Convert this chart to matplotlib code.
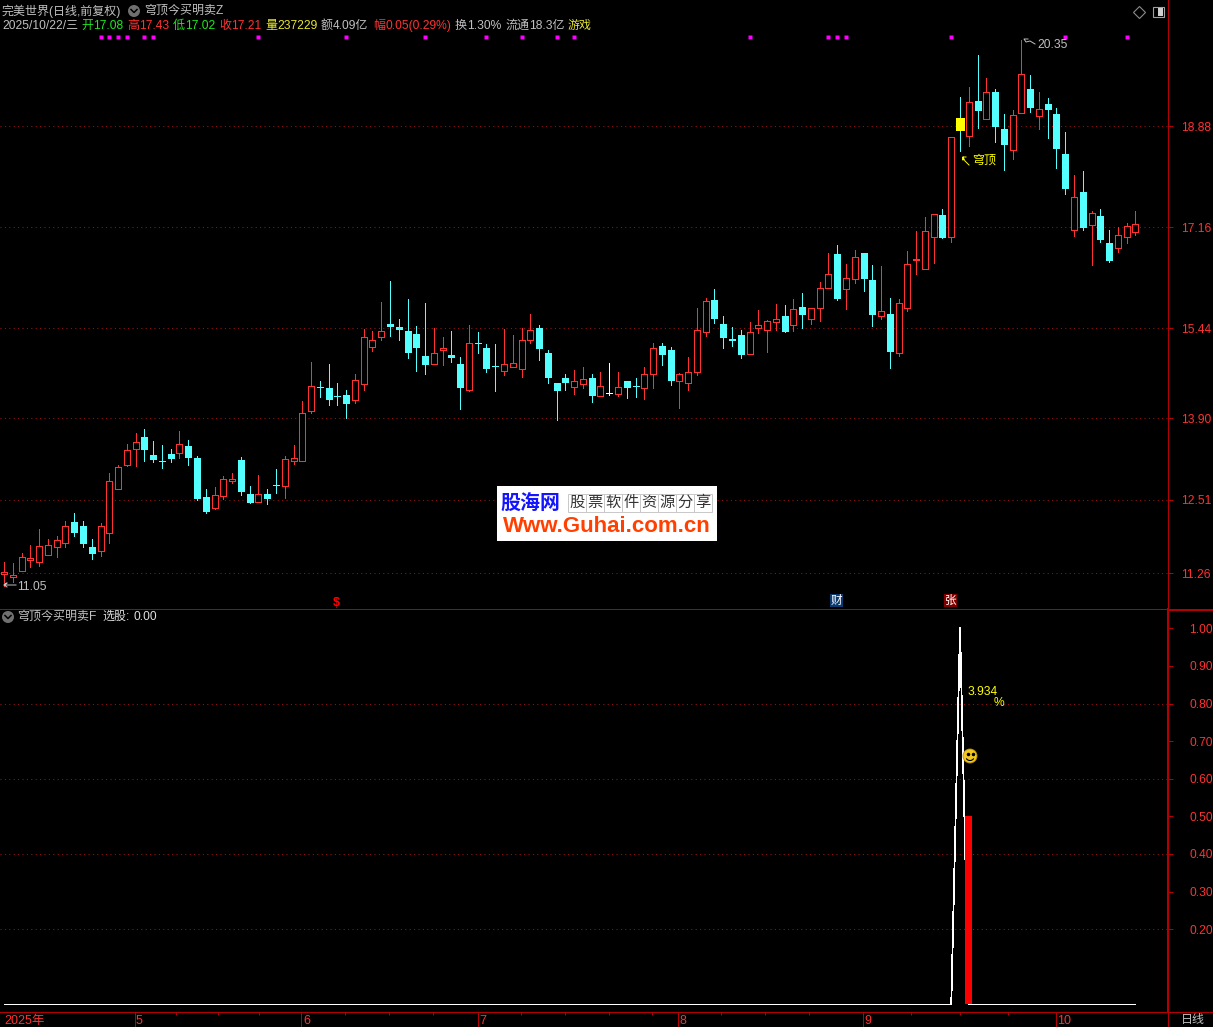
# daily candles with the two-panel terminal look
import matplotlib
matplotlib.use('Agg')
import matplotlib.pyplot as plt
from matplotlib.patches import Circle, Rectangle, Arc

plt.rcParams['font.family'] = ['Liberation Sans', 'Noto Sans CJK SC', 'DejaVu Sans']
plt.rcParams['font.size'] = 8.64

opens = [11.25, 11.20, 11.30, 11.48, 11.46, 11.58, 11.70, 11.78, 12.13, 12.07,
         11.71, 11.64, 11.95, 12.69, 13.11, 13.38, 13.58, 13.28, 13.18, 13.29,
         13.31, 13.43, 13.23, 12.56, 12.37, 12.58, 12.83, 13.19, 12.61, 12.48,
         12.61, 12.77, 12.74, 13.18, 13.18, 14.02, 14.44, 14.42, 14.29, 14.30,
         14.22, 14.49, 15.11, 15.29, 15.51, 15.46, 15.39, 15.34, 14.96, 14.83,
         15.07, 14.98, 14.83, 14.39, 15.19, 15.10, 14.80, 14.71, 14.77, 14.75,
         15.23, 15.44, 15.02, 14.50, 14.59, 14.44, 14.49, 14.59, 14.29, 14.34,
         14.31, 14.54, 14.46, 14.42, 14.65, 15.14, 15.07, 14.54, 14.51, 14.70,
         15.38, 15.92, 15.51, 15.25, 15.32, 14.99, 15.45, 15.41, 15.55, 15.65,
         15.50, 15.80, 15.60, 15.79, 16.13, 16.70, 16.10, 16.28, 16.72, 16.26,
         15.65, 15.68, 15.02, 15.79, 16.60, 16.45, 16.99, 17.37, 16.99, 19.02,
         18.72, 19.31, 19.01, 19.47, 18.83, 18.48, 19.11, 19.52, 19.06, 19.26,
         19.09, 18.41, 17.12, 17.76, 17.20, 17.35, 16.89, 16.81, 17.00, 17.08]
highs = [11.45, 11.43, 11.61, 11.74, 12.01, 11.85, 11.90, 12.15, 12.29, 12.15,
         11.85, 12.12, 12.97, 13.11, 13.46, 13.65, 13.72, 13.52, 13.45, 13.38,
         13.69, 13.53, 13.26, 12.70, 12.73, 12.92, 12.97, 13.24, 12.75, 12.94,
         12.70, 13.04, 13.26, 13.45, 14.20, 14.86, 14.54, 14.83, 14.50, 14.39,
         14.66, 15.42, 15.39, 15.89, 16.24, 15.60, 15.94, 15.48, 15.87, 15.44,
         15.29, 15.39, 14.95, 15.49, 15.37, 15.17, 15.17, 15.42, 15.32, 15.44,
         15.68, 15.49, 15.07, 14.50, 14.66, 14.73, 14.78, 14.66, 14.69, 14.85,
         14.69, 14.54, 14.59, 14.78, 15.19, 15.19, 15.12, 14.67, 14.95, 15.78,
         15.95, 16.11, 15.65, 15.46, 15.41, 15.54, 15.75, 15.58, 15.85, 15.83,
         15.94, 16.04, 15.79, 16.23, 16.72, 16.86, 16.53, 16.77, 16.72, 16.52,
         16.50, 15.95, 15.94, 16.76, 17.10, 17.33, 17.38, 17.47, 18.69, 19.38,
         19.55, 20.10, 19.70, 19.52, 19.09, 19.16, 20.35, 19.76, 19.47, 19.36,
         19.19, 18.78, 18.05, 18.12, 17.43, 17.47, 17.11, 17.16, 17.23, 17.43]
lows = [11.05, 11.11, 11.30, 11.37, 11.38, 11.58, 11.54, 11.71, 11.90, 11.71,
        11.50, 11.55, 11.78, 12.69, 13.09, 13.09, 13.17, 13.16, 13.05, 13.16,
        13.23, 13.11, 12.51, 12.29, 12.36, 12.53, 12.80, 12.60, 12.46, 12.48,
        12.44, 12.63, 12.54, 13.12, 13.18, 14.00, 14.27, 14.13, 14.13, 13.91,
        14.16, 14.39, 15.05, 15.24, 15.31, 15.24, 14.93, 14.71, 14.66, 14.83,
        14.81, 14.86, 14.06, 14.37, 15.02, 14.69, 14.37, 14.64, 14.77, 14.61,
        15.19, 14.90, 14.50, 13.87, 14.39, 14.32, 14.42, 14.18, 14.29, 14.30,
        14.29, 14.25, 14.27, 14.23, 14.42, 14.81, 14.47, 14.08, 14.39, 14.64,
        15.31, 15.53, 15.10, 15.14, 14.93, 14.99, 15.36, 15.03, 15.41, 15.37,
        15.39, 15.44, 15.51, 15.56, 16.13, 15.92, 15.77, 16.21, 16.07, 15.48,
        15.60, 14.76, 14.97, 15.73, 16.36, 16.45, 16.55, 16.98, 16.91, 18.46,
        18.55, 18.85, 19.01, 18.61, 18.14, 18.32, 19.11, 19.12, 18.83, 18.68,
        18.17, 17.73, 17.01, 17.11, 16.52, 16.91, 16.57, 16.74, 16.89, 17.02]
closes = [11.29, 11.23, 11.53, 11.52, 11.72, 11.74, 11.82, 12.06, 11.96, 11.78,
          11.61, 12.06, 12.83, 13.08, 13.37, 13.49, 13.38, 13.21, 13.17, 13.23,
          13.46, 13.24, 12.54, 12.32, 12.59, 12.86, 12.86, 12.66, 12.48, 12.61,
          12.54, 12.76, 13.20, 13.22, 14.00, 14.45, 14.43, 14.23, 14.28, 14.16,
          14.55, 15.28, 15.23, 15.39, 15.48, 15.42, 15.03, 15.12, 14.83, 15.01,
          15.10, 14.95, 14.44, 15.18, 15.18, 14.76, 14.79, 14.82, 14.84, 15.23,
          15.40, 15.10, 14.61, 14.39, 14.52, 14.53, 14.57, 14.30, 14.45, 14.34,
          14.43, 14.44, 14.45, 14.65, 15.10, 15.00, 14.56, 14.65, 14.70, 15.40,
          15.91, 15.61, 15.29, 15.24, 15.00, 15.37, 15.49, 15.56, 15.59, 15.39,
          15.76, 15.68, 15.79, 16.12, 16.37, 15.95, 16.29, 16.66, 16.29, 15.68,
          15.74, 15.05, 15.86, 16.54, 16.61, 17.09, 17.38, 16.99, 18.69, 18.82,
          19.29, 19.16, 19.46, 18.89, 18.58, 19.07, 19.77, 19.21, 19.17, 19.18,
          18.51, 17.83, 17.67, 17.16, 17.41, 16.96, 16.60, 17.02, 17.18, 17.21]

price_ticks = [11.26, 12.51, 13.90, 15.44, 17.16, 18.88]
signal_days = [11, 12, 13, 14, 16, 17, 29, 39, 48, 55, 59, 63, 65, 85, 94, 95, 96, 108, 121, 128]
signal_level = 20.40
top_day = 109   # the yellow candle

n = len(closes)
days = list(range(n))
line_vals = [0.0] * n
line_vals[top_day] = 1.0
bar_days = [top_day + 1]
bar_vals = [0.5]
osc_ticks = [0.2, 0.3, 0.4, 0.5, 0.6, 0.7, 0.8, 0.9, 1.0]
osc_grid = [0.2, 0.4, 0.6, 0.8]

month_pos = [14.87, 33.91, 53.98, 76.79, 97.93, 119.95]
month_labels = ['5', '6', '7', '8', '9', '10']
week_pos = [19.6, 24.39, 29.07, 38.87, 43.9, 48.9, 58.94, 63.96, 68.97, 73.87,
            81.75, 86.76, 91.78, 103.4, 108.99, 114.47]

W, H = 1213, 1027
RED = '#ff3232'
CYAN = '#54ffff'
DARK = '#b40000'
GRID = '#a01414'
GREY = '#c0c0c0'
YEL = '#e6e62e'
PX = 0.72
x_lim = (-4.1 / 8.77, (1167.7 - 4.1) / 8.77)


def panel(top, bottom):
    return fig.add_axes([0, 1 - bottom / H, 1167.7 / W, (bottom - top) / H], facecolor='black')


def dotted(a, v):
    a.axhline(v, color=GRID, lw=PX, ls=(0, (1, 3.4)), zorder=1)


fig = plt.figure(figsize=(W / 100, H / 100), dpi=100, facecolor='black')

# price panel
ax = panel(0, 608.5)
ax.set_xlim(x_lim)
ax.set_ylim(11.26 - (608.5 - 573.3) / 58.66, 11.26 + 573.3 / 58.66)
for p in price_ticks:
    dotted(ax, p)

up = [i for i in days if closes[i] >= opens[i] and i != 69]
down = [i for i in days if closes[i] < opens[i] and i != top_day]
flat = [69]
wick_col = [RED if i in up else (CYAN if closes[i] < opens[i] else 'white') for i in days]
ax.vlines(days, lows, highs, colors=wick_col, lw=PX, antialiased=False, zorder=2)

wd = 6 / 8.77
ax.bar(up, [closes[i] - opens[i] for i in up], bottom=[opens[i] for i in up], width=wd,
       facecolor='black', edgecolor=RED, lw=PX, antialiased=False, zorder=3)
ax.bar(down, [opens[i] - closes[i] for i in down], bottom=[closes[i] for i in down], width=wd,
       facecolor=CYAN, edgecolor=CYAN, lw=PX, antialiased=False, zorder=3)
ax.bar(flat, [0] * len(flat), bottom=[closes[i] for i in flat], width=wd,
       facecolor='white', edgecolor='white', lw=PX, antialiased=False, zorder=3)
ax.bar([top_day], [opens[top_day] - closes[top_day]], bottom=[closes[top_day]], width=8 / 8.77,
       facecolor='#ffff00', edgecolor='#ffff00', lw=PX, antialiased=False, zorder=3)
ax.plot(signal_days, [signal_level] * len(signal_days), ls='none', marker='s', ms=2.2,
        mfc='#ff00ff', mec='none', zorder=3)

ax.set_xticks([])
ax.yaxis.tick_right()
ax.set_yticks(price_ticks, ['%.2f' % p for p in price_ticks])
ax.tick_params(axis='y', length=3.6, width=PX, color=DARK, labelcolor=RED, pad=6.3)
for s in ax.spines.values():
    s.set_visible(False)
ax.spines['right'].set_visible(True)
ax.spines['right'].set_color(DARK)
ax.spines['right'].set_linewidth(PX)

# lower panel
ax2 = panel(608.5, 1012.3)
ax2.set_xlim(x_lim)
ax2.set_ylim((1004.3 - 1012.3) / 376, (1004.3 - 608.5) / 376)
for v in osc_grid:
    dotted(ax2, v)
# flat parts apart from the spike so they snap to one pixel
ax2.plot(days[:top_day], line_vals[:top_day], color='white', lw=PX, zorder=2)
ax2.plot(days[top_day - 1:top_day + 2], line_vals[top_day - 1:top_day + 2], color='white', lw=0.6,
         antialiased=False, zorder=2)
ax2.plot(days[top_day + 1:], line_vals[top_day + 1:], color='white', lw=PX, zorder=2)
ax2.bar(bar_days, bar_vals, width=7 / 8.77, color='#ff0000', antialiased=False, zorder=3)
ax2.set_xticks([])
ax2.yaxis.tick_right()
ax2.set_yticks(osc_ticks, ['%.2f' % v for v in osc_ticks])
ax2.tick_params(axis='y', length=3.6, width=PX, color=DARK, labelcolor=RED, pad=12)
for s in ax2.spines.values():
    s.set_visible(False)
ax2.spines['right'].set_visible(True)
ax2.spines['right'].set_color(DARK)
ax2.spines['right'].set_linewidth(1.5)

# date strip
ax3 = panel(1012.3, 1027)
ax3.set_xlim(x_lim)
ax3.set_ylim(1, 0)
ax3.set_yticks([])
ax3.set_xticks(month_pos)
ax3.set_xticklabels([])
ax3.set_xticks(week_pos, minor=True)
ax3.xaxis.tick_top()
ax3.tick_params(axis='x', which='major', direction='in', length=10.6, width=PX, color=DARK)
ax3.tick_params(axis='x', which='minor', direction='in', length=2.2, width=PX, color=DARK)
for s in ax3.spines.values():
    s.set_visible(False)
ax3.spines['right'].set_visible(True)
ax3.spines['right'].set_color(DARK)
ax3.spines['right'].set_linewidth(PX)
for pos, lab in zip(month_pos, month_labels):
    ax3.text(pos + 0.17, 0.62, lab, color=RED, va='center', ha='left', fontsize=9)
ax3.text(0.05, 0.62, '2025年', color=RED, va='center', ha='left', fontsize=9)

# overlay in pixels for texts and small icons
ov = fig.add_axes([0, 0, 1, 1], facecolor='none', zorder=5)
ov.set_xlim(0, W)
ov.set_ylim(H, 0)
ov.axis('off')


def txt(x, y, s, color=GREY, **kw):
    ov.text(x, y, s, color=color, va='center', ha='left', **kw)


def hline(x0, x1, y, lw=PX):
    ov.plot([x0, x1], [y, y], color=DARK, lw=lw, antialiased=False, solid_capstyle='butt')


def chevron(cx, cy):
    ov.add_patch(Circle((cx, cy), 6, color='#707070', lw=0))
    ov.plot([cx - 3, cx, cx + 3], [cy - 1.5, cy + 1.5, cy - 1.5], color='black', lw=1.1)


hline(0, W, 608.5, 0.5)
hline(1168, W, 610, 1.2)
hline(0, W, 1012.3, 0.5)

txt(2, 11, '完美世界(日线,前复权)')
chevron(134, 11)
txt(144, 11, '穹顶今买明卖Z')

row = 26
txt(2, row, '2025/10/22/三')
GRN = '#22e622'
for x, s, c in [(81, '开', GRN), (93, '17.08', GRN), (127, '高', RED), (139, '17.43', RED),
                (173, '低', GRN), (185, '17.02', GRN), (219, '收', RED), (231, '17.21', RED),
                (265, '量', YEL), (277, '237229', YEL), (321, '额', GREY), (333, '4.09亿', GREY),
                (373, '幅', RED), (385, '0.05(0.29%)', RED), (455, '换', GREY), (467, '1.30%', GREY),
                (505, '流通', GREY), (529, '18.3亿', GREY), (568, '游戏', YEL)]:
    txt(x, row, s, c)

# top right icons
ov.plot([1139], [12], marker='D', ms=6, mfc='none', mec='#8a8a8a', mew=0.8, ls='none')
ov.add_patch(Rectangle((1152.5, 7), 11, 10, fc='none', ec='#a0a0a0', lw=0.8))
ov.add_patch(Rectangle((1158, 8), 5, 8, fc='#d0d0d0', ec='none'))

# price labels on the chart
ov.plot([16, 4, 7, 4, 7], [585, 585, 583, 585, 587], color=GREY, lw=0.7)
txt(17, 587, '11.05')
ov.plot([1035, 1030, 1026, 1024, 1024, 1024, 1028], [44, 41, 42, 39, 39, 39, 39], color=GREY, lw=0.7)
txt(1037, 45, '20.35')
ov.plot([969, 965, 963, 963, 963, 966], [165, 161, 157, 160, 157, 157], color='#ffff00', lw=0.7)
txt(972, 161, '穹顶', '#ffff00')

# markers above the separator
ov.text(336, 603, '$', color='#ff0000', ha='center', va='center', fontweight='bold', fontsize=9)
ov.add_patch(Rectangle((830, 594.3), 13, 12.7, fc='#0a3a70', ec='none'))
ov.text(836.5, 600.6, '财', color='white', ha='center', va='center', fontsize=8.4)
ov.add_patch(Rectangle((944, 594.3), 13, 12.7, fc='#800000', ec='none'))
ov.text(950.5, 600.6, '张', color='white', ha='center', va='center', fontsize=8.4)

# lower panel title and notes
chevron(8, 617)
txt(17, 617, '穹顶今买明卖F')
txt(102, 617, '选股:', '#e0e0e0')
txt(133, 617, '0.00', '#e0e0e0')
txt(967, 692, '3.934', '#ffff00')
txt(994, 703, '%', '#ffff00')
ov.add_patch(Circle((970, 756), 7, fc='#f0c820', ec='#b89000', lw=0.6))
ov.plot([967.5, 972.5], [754, 754], ls='none', marker='o', ms=1.5, color='black')
ov.add_patch(Arc((970, 757), 8, 7, theta1=20, theta2=160, color='black', lw=0.8))
txt(1180.5, 1020, '日线')

# site badge
ov.add_patch(Rectangle((497, 486), 220, 55, fc='white', ec='none', zorder=6))
ov.text(530.5, 503, '股海网', color='#1414ff', ha='center', va='center', fontweight='bold',
        fontsize=14.4, zorder=7)
cells = '股票软件资源分享'
for k, ch in enumerate(cells):
    ov.add_patch(Rectangle((568 + k * 18, 494), 18, 17.7, fc='white', ec='#c8c8c8', lw=0.7, zorder=7))
    ov.text(577 + k * 18, 503, ch, color='#333333', ha='center', va='center', fontsize=11, zorder=8)
ov.text(606.7, 526, 'Www.Guhai.com.cn', color='#ff4000', ha='center', va='center',
        fontweight='bold', fontsize=16, zorder=7)

fig.savefig('out.png', dpi=100, facecolor='black')
